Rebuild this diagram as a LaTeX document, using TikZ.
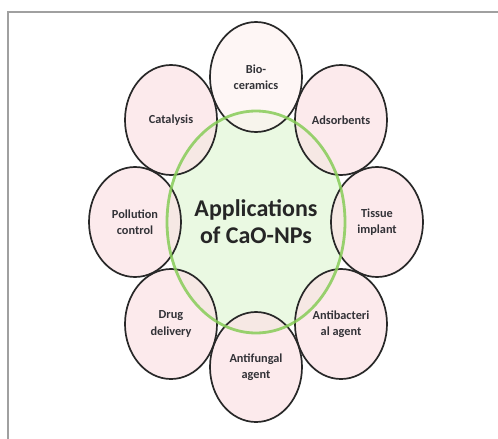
\documentclass[tikz,border=0pt]{standalone}
\usepackage{fontspec}
\setmainfont{Carlito}
\usetikzlibrary{shapes.geometric}
\definecolor{petal}{RGB}{251,226,229}
\definecolor{petaltop}{RGB}{253,243,241}
\definecolor{ringline}{RGB}{40,40,40}
\definecolor{hubfill}{RGB}{234,249,226}
\definecolor{hubline}{RGB}{135,204,88}
\definecolor{txt}{RGB}{50,50,55}
\definecolor{framec}{RGB}{160,160,160}
\tikzset{
  petalbox/.style={ellipse, minimum width=92pt, minimum height=110pt, inner sep=0pt,
    fill=petal, fill opacity=0.72, text opacity=1, draw=ringline, draw opacity=1,
    line width=1.7pt, align=center, text=txt,
    font=\bfseries\fontsize{12.3}{16.5}\selectfont},
  hubbox/.style={ellipse, minimum width=178pt, minimum height=222pt, inner sep=0pt,
    fill=hubfill, align=center, text=black!85,
    font=\bfseries\fontsize{24}{27}\selectfont},
  hubring/.style={ellipse, minimum width=178pt, minimum height=222pt, inner sep=0pt,
    draw=hubline, draw opacity=0.85, line width=2.8pt},
  framebar/.style={draw=framec, line width=2pt}
}
\begin{document}
\begin{tikzpicture}[x=1pt,y=-1pt]
\useasboundingbox (0,0) rectangle (498,439);
\coordinate (ftl) at (8,12);
\coordinate (ftr) at (498,12);
\coordinate (fbl) at (8,439);
\draw[framebar] (ftr) -- (ftl) -- (fbl);
\node[hubbox] (hub) at (256,222) {Applications\\of CaO-NPs};
\node[petalbox, fill=petaltop] (bio) at (256,77) {Bio-\\ceramics};
\node[petalbox] (ads) at (341,120) {Adsorbents};
\node[petalbox] (tis) at (377,222) {Tissue\\implant};
\node[petalbox] (abac) at (341,324) {Antibacteri\\al agent};
\node[petalbox] (afun) at (256,367) {Antifungal\\agent};
\node[petalbox] (drug) at (171,324) {Drug\\delivery};
\node[petalbox] (poll) at (135,222) {Pollution\\control};
\node[petalbox] (cat) at (171,120) {Catalysis};
\node[hubring] (ring) at (hub.center) {};
\end{tikzpicture}
\end{document}
